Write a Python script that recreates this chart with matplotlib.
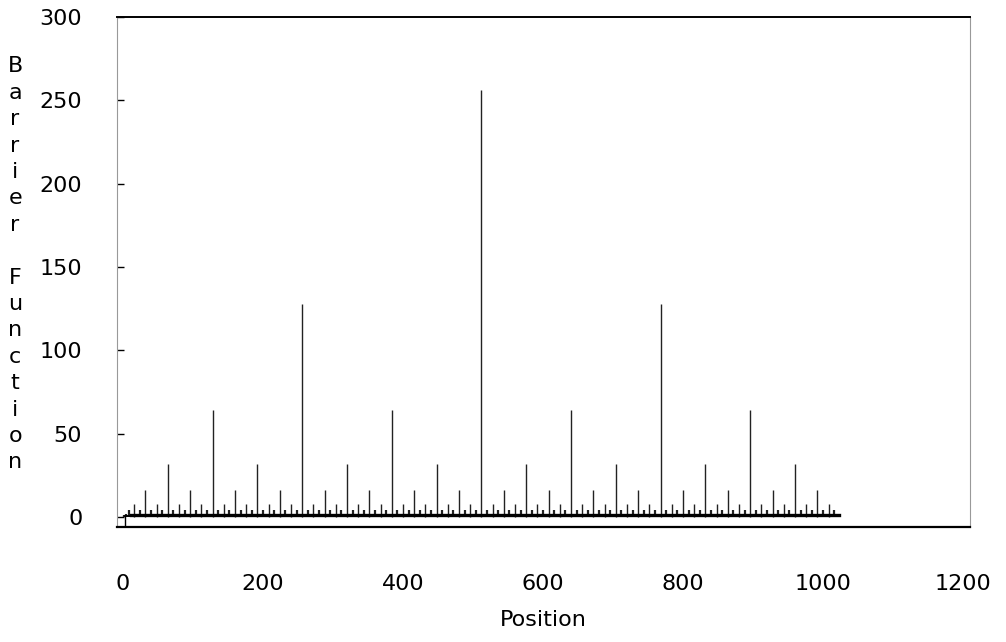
import matplotlib.pyplot as plt
import numpy as np

# spike heights by level (ruler-like pattern)
level_heights = [256, 128, 64, 32, 16, 8, 4, 2, 1, 0.5]
# first position of each level and spacing between spikes of that level
level_first = [512, 256, 128, 64, 32, 16, 8, 4, 2, 1]
level_step = [1024, 512, 256, 128, 64, 32, 16, 8, 4, 2]
last_position = 1023

xticks = [0, 200, 400, 600, 800, 1000, 1200]
yticks = [0, 50, 100, 150, 200, 250, 300]

fig = plt.figure(figsize=(10.06, 6.42), dpi=100)
ax = fig.add_axes([0.1163, 0.1791, 0.8479, 0.7944])

for h, first, step in zip(level_heights, level_first, level_step):
    pos = np.arange(first, last_position + 1, step)
    lw = 1.0 if h >= 8 else 1.6
    ax.vlines(pos, 0, h, color='#222222', linewidth=lw)

# thick base line of the small values
ax.plot([12, last_position], [1.5, 1.5], color='black', linewidth=2.4)
ax.plot([3, 12], [0.5, 0.5], color='black', linewidth=1.2)
ax.plot([3, 3], [-6, 0.5], color='black', linewidth=1.0)

ax.set_xlim(-8.6, 1210)
ax.set_ylim(-6, 300)
ax.set_xticks(xticks)
ax.set_yticks(yticks)
ax.tick_params(axis='x', length=0, pad=34, labelsize=16)
ax.tick_params(axis='y', direction='in', length=5, width=1, pad=25, labelsize=16)

for side in ['left', 'right']:
    ax.spines[side].set_color('#999999')
    ax.spines[side].set_linestyle((0, (1, 1)))
    ax.spines[side].set_linewidth(0.8)
ax.spines['top'].set_linewidth(1.4)
ax.spines['bottom'].set_linewidth(1.6)

ax.set_xlabel('Position', fontsize=16, labelpad=11)
fig.text(0.015, 0.912, '\n'.join('Barrier') + '\n\n' + '\n'.join('Function'),
         fontsize=16, ha='center', va='top', linespacing=1.40)

plt.savefig('out.png', dpi=100)
